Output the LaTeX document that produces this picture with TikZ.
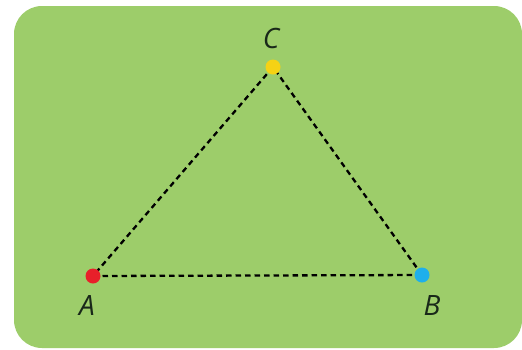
\documentclass[tikz,border=0pt]{standalone}
\usepackage{fontspec}
\setmainfont{Open Sans}
\definecolor{bg}{RGB}{157,205,106}
\definecolor{ptA}{RGB}{232,32,42}
\definecolor{ptB}{RGB}{30,175,235}
\definecolor{ptC}{RGB}{245,210,20}
\definecolor{lbl}{RGB}{25,40,25}
\tikzset{
  dot/.style={circle,inner sep=0pt,minimum size=15pt},
  lab/.style={text=lbl,font=\fontsize{28}{30}\selectfont\itshape,inner sep=0pt},
  edge/.style={draw=black,line width=2.3pt,dash pattern=on 5.5pt off 4pt}
}
\begin{document}
\begin{tikzpicture}[x=1pt,y=-1pt]
\useasboundingbox[fill=white] (0,0) rectangle (522,349);
\fill[bg,rounded corners=28pt] (14,6) rectangle (522,348);
\coordinate (a) at (93,276);
\coordinate (b) at (422,275);
\coordinate (c) at (273,67);
\draw[edge] (a) -- (b);
\draw[edge] (b) -- (c);
\draw[edge] (c) -- (a);
\node[dot,fill=ptA] (A) at (a) {};
\node[dot,fill=ptB] (B) at (b) {};
\node[dot,fill=ptC] (C) at (c) {};
\node[lab] (LA) at (87,305) {A};
\node[lab] (LB) at (432,305) {B};
\node[lab] (LC) at (271,38) {C};
\end{tikzpicture}
\end{document}
